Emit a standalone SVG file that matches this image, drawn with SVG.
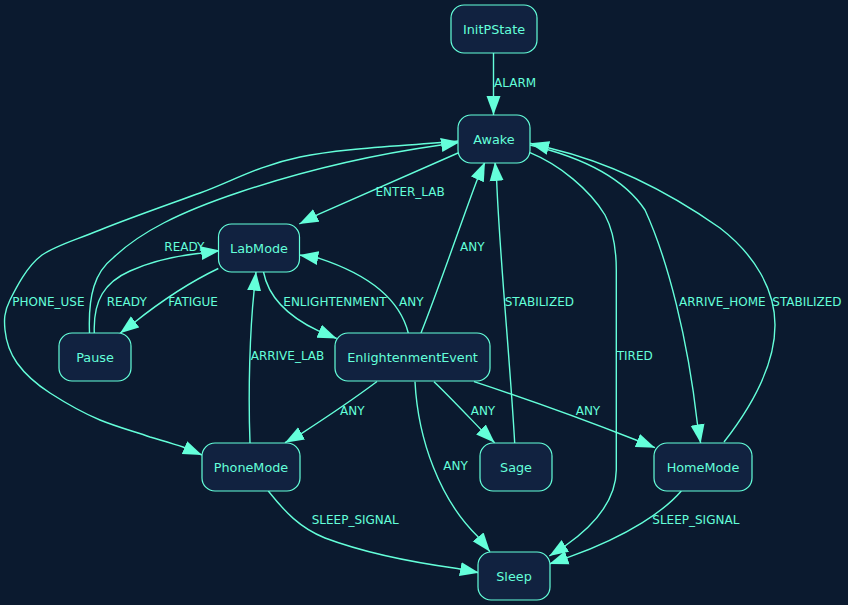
<svg xmlns="http://www.w3.org/2000/svg" width="848" height="605" viewBox="0 0 848 605">
<defs>
<style>
.node rect{fill:#112240;stroke:#64ffda;stroke-width:1.2}
.node text{fill:#64ffda;font-family:"DejaVu Sans",sans-serif;font-size:12.8px;text-anchor:middle}
.edge{fill:none;stroke:#64ffda;stroke-width:1.4;marker-end:url(#arr)}
.lbl{fill:#64ffda;font-family:"DejaVu Sans",sans-serif;font-size:12px}
</style>
<marker id="arr" markerUnits="userSpaceOnUse" markerWidth="20" markerHeight="16" refX="19" refY="7.5" orient="auto">
<path d="M0,0.5 L19,7.5 L0,14.5 z" fill="#64ffda"/>
</marker>
</defs>
<rect width="848" height="605" fill="#0b1a2f"/>
<g id="connectors">
<path class="edge" d="M493.5,53 L493.5,95 L493.5,115"/>
<path class="edge" d="M458,153 L318.3,214.3 L299.3,224"/>
<path class="edge" d="M89.5,333 C88,295 95,272 113,258 C140,232 180,212 240,192 C300,172 370,155 441,145 L460,142"/>
<path class="edge" d="M458,141 C405,146 343,148 300,157 C257,166 233,181 200,193 C167,205 127,219 100,230 C73,241 57,245 42,255 C27,266 16,288 10,300 C4,312 4,320 5,330 C6,340 10,353 17,363 C25,374 36,384 50,393 C64,402 83,413 100,420 C117,427 136,432 150,437 C164,441 170,443 183,447 L202,455"/>
<path class="edge" d="M94.3,333 C93,300 105,282 130,271 C150,262 175,256 200,253.3 L220,250.5"/>
<path class="edge" d="M218.3,268.5 C190,282 160,302 134,322.7 L120,333.3"/>
<path class="edge" d="M263.5,272 C268,295 285,315 318,330.7 L336.7,338.5"/>
<path class="edge" d="M408.3,333 C400,300 370,275 319.3,258.3 L299.3,255"/>
<path class="edge" d="M421,333 C440,285 462,220 476.7,181 L485,162"/>
<path class="edge" d="M514.7,443 C510,360 500,260 496.7,182 L495,162"/>
<path class="edge" d="M530,152.7 C560,165 590,190 605,215 C614,232 616.3,250 616.3,270 L616.3,470 C616,500 595,525 565,546 L549.3,556"/>
<path class="edge" d="M530,145 C585,158 625,180 645,210 C668,260 688,340 697.3,423 L700.7,443.3"/>
<path class="edge" d="M724,442 C745,415 775,370 775,325 C775,290 755,255 720,228 C680,200 620,165 550,148.3 L530,143.3"/>
<path class="edge" d="M250,443 C248,390 250,330 254,291.7 L256,271.7"/>
<path class="edge" d="M377,381.5 C355,398 330,415 301.7,433.3 L285,442.7"/>
<path class="edge" d="M434,381.7 C448,395 465,413 480.7,429.3 L494.7,442.7"/>
<path class="edge" d="M474,381.7 C530,400 590,422 636,440 L655,447.7"/>
<path class="edge" d="M415,381.7 C418,440 440,500 478,536.7 L490,551.7"/>
<path class="edge" d="M268.3,491 C285,512 300,528 325,538 C365,553 410,562 457.3,568.5 L479,572.7"/>
<path class="edge" d="M681.3,491 C665,510 630,535 570,556.7 L549.3,564"/>
<text class="lbl" x="494" y="87">ALARM</text>
<text class="lbl" x="375.5" y="196">ENTER_LAB</text>
<text class="lbl" x="164.3" y="251">READY</text>
<text class="lbl" x="106.7" y="306">READY</text>
<text class="lbl" x="168.3" y="306">FATIGUE</text>
<text class="lbl" x="12.3" y="306">PHONE_USE</text>
<text class="lbl" x="283.3" y="306">ENLIGHTENMENT</text>
<text class="lbl" x="399" y="306">ANY</text>
<text class="lbl" x="250.7" y="360">ARRIVE_LAB</text>
<text class="lbl" x="460" y="251">ANY</text>
<text class="lbl" x="504.7" y="306">STABILIZED</text>
<text class="lbl" x="616.7" y="360">TIRED</text>
<text class="lbl" x="679" y="306">ARRIVE_HOME</text>
<text class="lbl" x="772.3" y="306">STABILIZED</text>
<text class="lbl" x="340" y="415">ANY</text>
<text class="lbl" x="470.7" y="415">ANY</text>
<text class="lbl" x="575.7" y="415">ANY</text>
<text class="lbl" x="443.3" y="470">ANY</text>
<text class="lbl" x="311.7" y="524">SLEEP_SIGNAL</text>
<text class="lbl" x="652.3" y="524">SLEEP_SIGNAL</text>
</g>
<g id="InitPState" class="node"><rect x="451" y="5" width="86" height="48" rx="13"/><text x="494" y="33.5">InitPState</text></g>
<g id="Awake" class="node"><rect x="458" y="115" width="72" height="48" rx="13"/><text x="494" y="143.5">Awake</text></g>
<g id="LabMode" class="node"><rect x="218.5" y="224" width="81" height="48" rx="13"/><text x="259" y="252.5">LabMode</text></g>
<g id="Pause" class="node"><rect x="59" y="333" width="72" height="48" rx="13"/><text x="95" y="361.5">Pause</text></g>
<g id="EnlightenmentEvent" class="node"><rect x="335" y="333" width="155" height="48" rx="13"/><text x="412.5" y="361.5">EnlightenmentEvent</text></g>
<g id="PhoneMode" class="node"><rect x="202" y="443" width="98" height="48" rx="13"/><text x="251" y="471.5">PhoneMode</text></g>
<g id="Sage" class="node"><rect x="480" y="443" width="72" height="48" rx="13"/><text x="516" y="471.5">Sage</text></g>
<g id="HomeMode" class="node"><rect x="654" y="443" width="98" height="48" rx="13"/><text x="703" y="471.5">HomeMode</text></g>
<g id="Sleep" class="node"><rect x="478" y="552" width="72" height="48" rx="13"/><text x="514" y="580.5">Sleep</text></g>
</svg>
